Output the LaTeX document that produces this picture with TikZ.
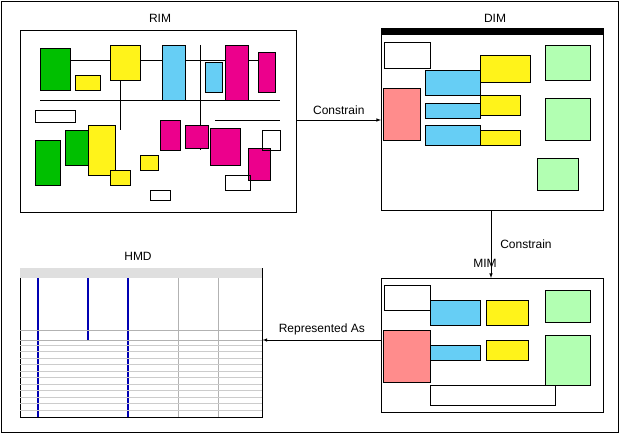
\documentclass[tikz,border=0pt]{standalone}
\usepackage{fontspec}
\setmainfont{Liberation Sans}
\begin{document}
\begin{tikzpicture}[x=1pt,y=-1pt,
  panel/.style={draw=black,line width=0.6pt,fill=white},
  lbl/.style={font=\fontsize{12}{14}\selectfont,inner sep=1pt},
  conn/.style={draw=black,line width=0.6pt,-latex},
  gbox/.style={fill=green!75!black,draw=black,line width=0.3pt},
  ybox/.style={fill=yellow!90!white,draw=black,line width=0.3pt},
  cbox/.style={fill=cyan!60!white,draw=black,line width=0.3pt},
  mbox/.style={fill=magenta,draw=black,line width=0.3pt},
  rbox/.style={fill=red!45!white,draw=black,line width=0.3pt},
  lgbox/.style={fill=green!30!white,draw=black,line width=0.3pt}]
\useasboundingbox (0,0) rectangle (619,433);
\draw[line width=0.6pt] (1,1) rectangle (618,432);
% RIM
\node[panel,minimum width=276pt,minimum height=182pt,anchor=north west] (rim) at (20,30) {};
\node[lbl] (rimt) at (160,18) {RIM};
\draw[line width=0.8pt] (45,60) -- (270,60) (40,100) -- (280,100) (120,45) -- (120,130) (200,45)--(200,150) (215,120)--(280,120);
\draw[gbox] (40,48) rectangle (70,90); \draw[gbox] (35,140) rectangle (60,185); \draw[gbox] (65,130) rectangle (90,165);
\draw[ybox] (75,75) rectangle (100,90); \draw[ybox] (110,45) rectangle (140,80); \draw[ybox] (88,125) rectangle (115,175);
\draw[ybox] (110,170) rectangle (130,185); \draw[ybox] (140,155) rectangle (158,170);
\draw[cbox] (162,45) rectangle (185,100); \draw[cbox] (205,62) rectangle (222,92);
\draw[mbox] (225,45) rectangle (248,100); \draw[mbox] (258,52) rectangle (275,92);
\draw[mbox] (160,120) rectangle (180,150); \draw[mbox] (185,125) rectangle (208,148);
\draw[mbox] (210,128) rectangle (240,165); \draw[mbox] (248,148) rectangle (270,180);
\draw[line width=0.5pt] (35,110) rectangle (75,122) (225,175) rectangle (250,190) (262,130) rectangle (280,150) (150,190) rectangle (170,200);
% DIM
\node[panel,minimum width=222pt,minimum height=182pt,anchor=north west] (dim) at (381,28) {};
\fill (381,28) rectangle (603,35);
\node[lbl] (dimt) at (495,18) {DIM};
\draw[line width=0.4pt] (384,42) rectangle (430,68);
\draw[rbox] (383,88) rectangle (420,140);
\draw[cbox] (425,70) rectangle (480,95); \draw[cbox] (425,103) rectangle (480,118); \draw[cbox] (425,125) rectangle (480,145);
\draw[ybox] (480,55) rectangle (530,82); \draw[ybox] (480,95) rectangle (520,115); \draw[ybox] (480,130) rectangle (520,145);
\draw[lgbox] (545,45) rectangle (590,80); \draw[lgbox] (545,98) rectangle (590,140); \draw[lgbox] (537,158) rectangle (578,190);
% MIM
\node[panel,minimum width=222pt,minimum height=134pt,anchor=north west] (mim) at (381,278) {};
\node[lbl] (mimt) at (485,263) {MIM};
\draw[line width=0.4pt] (384,285) rectangle (430,310);
\draw[rbox] (383,330) rectangle (430,382);
\draw[cbox] (430,300) rectangle (480,325); \draw[cbox] (430,345) rectangle (480,360);
\draw[ybox] (486,300) rectangle (528,325); \draw[ybox] (486,340) rectangle (528,360);
\draw[lgbox] (545,290) rectangle (590,322); \draw[lgbox] (545,335) rectangle (590,385);
\draw[line width=0.8pt] (430,385) rectangle (555,405);
% HMD
\node[panel,minimum width=242pt,minimum height=149pt,anchor=north west] (hmd) at (20,268) {};
\node[lbl] (hmdt) at (138,256) {HMD};
\fill[gray!25] (20,268) rectangle (262,278);
\draw[blue!70!black,line width=1.2pt] (38,278)--(38,417) (88,278)--(88,340) (128,278)--(128,417);
\draw[gray!60] (20,330) -- (262,330) (20,340)--(262,340) (178,278)--(178,417) (218,278)--(218,417);
\foreach \i in {0,...,10} \draw[gray!40] (20,{345+\i*6.5}) -- (262,{345+\i*6.5});
% connectors
\draw[conn] (rim.east |- 0,120) -- (dim.west |- 0,120) node[midway,above,lbl,yshift=4pt] (c1) {Constrain};
\draw[conn] (dim.south -| 491,0) -- (mim.north -| 491,0) node[midway,right,lbl,xshift=8pt] (c2) {Constrain};
\draw[conn] (mim.west |- 0,340) -- (hmd.east |- 0,340) node[midway,above,lbl,yshift=4pt] (c3) {Represented As};
\end{tikzpicture}
\end{document}
